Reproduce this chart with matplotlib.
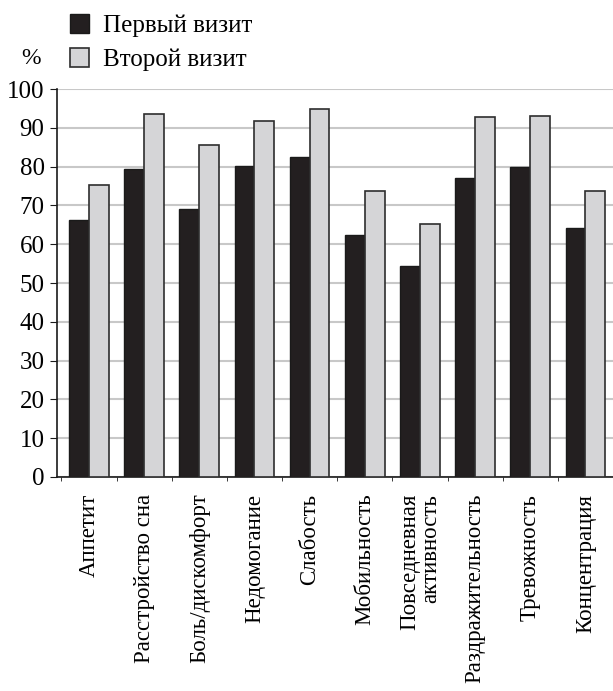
import matplotlib
matplotlib.use("Agg")
import matplotlib.pyplot as plt
import numpy as np

plt.rcParams['font.family'] = ['Liberation Serif', 'DejaVu Serif']

# data
categories = ["Аппетит", "Расстройство сна", "Боль/дискомфорт", "Недомогание",
              "Слабость", "Мобильность", "Повседневная\nактивность",
              "Раздражительность", "Тревожность", "Концентрация"]
first_visit = [66.2, 79.5, 69.2, 80.2, 82.4, 62.4, 54.4, 77.2, 80.0, 64.3]
second_visit = [75.3, 93.5, 85.5, 91.8, 94.8, 73.8, 65.2, 92.9, 93.2, 73.8]
series_names = ["Первый визит", "Второй визит"]

fig = plt.figure(figsize=(6.13, 6.91), dpi=100)
ax = fig.add_axes([0.093, 0.3097, 0.907, 0.5613])

x = np.arange(len(categories))
w = 0.36
ax.bar(x - w / 2, first_visit, w, color="#231f20", edgecolor="#1a1a1a",
       linewidth=1.0, label=series_names[0], zorder=3)
ax.bar(x + w / 2, second_visit, w, color="#d5d5d7", edgecolor="#2e2e2e",
       linewidth=1.2, label=series_names[1], zorder=3)

ax.set_xlim(-0.58, 9.44)
ax.set_ylim(0, 100)
ax.set_yticks(np.arange(0, 101, 10))
ax.yaxis.grid(True, color="#c8c8c8", linewidth=1.5, zorder=0)
ax.set_axisbelow(True)

for s in ["top", "right"]:
    ax.spines[s].set_visible(False)
for s in ["left", "bottom"]:
    ax.spines[s].set_color("#1a1a1a")
    ax.spines[s].set_linewidth(1.2)

ax.set_xticks(x)
ax.set_xticklabels(categories, rotation=90, fontsize=16.5, va="top",
                   ha="center", multialignment="right", linespacing=1.0)
ax.tick_params(axis="x", length=0, pad=12)
ax.set_xticks(np.arange(-0.5, 9.6, 1.0), minor=True)
ax.tick_params(axis="x", which="minor", length=3, direction="out", color="#1a1a1a")
ax.tick_params(axis="y", labelsize=18, length=5, direction="out", color="#1a1a1a", pad=4)

fig.text(0.035, 0.915, "%", fontsize=17, ha="left", va="center")
fig.legend(loc="center left", bbox_to_anchor=(0.115, 0.938), frameon=False,
           fontsize=18, handlelength=0.75, handleheight=0.75, handletextpad=0.55,
           labelspacing=0.45, borderaxespad=0, borderpad=0)

fig.savefig("out.png", dpi=100)
